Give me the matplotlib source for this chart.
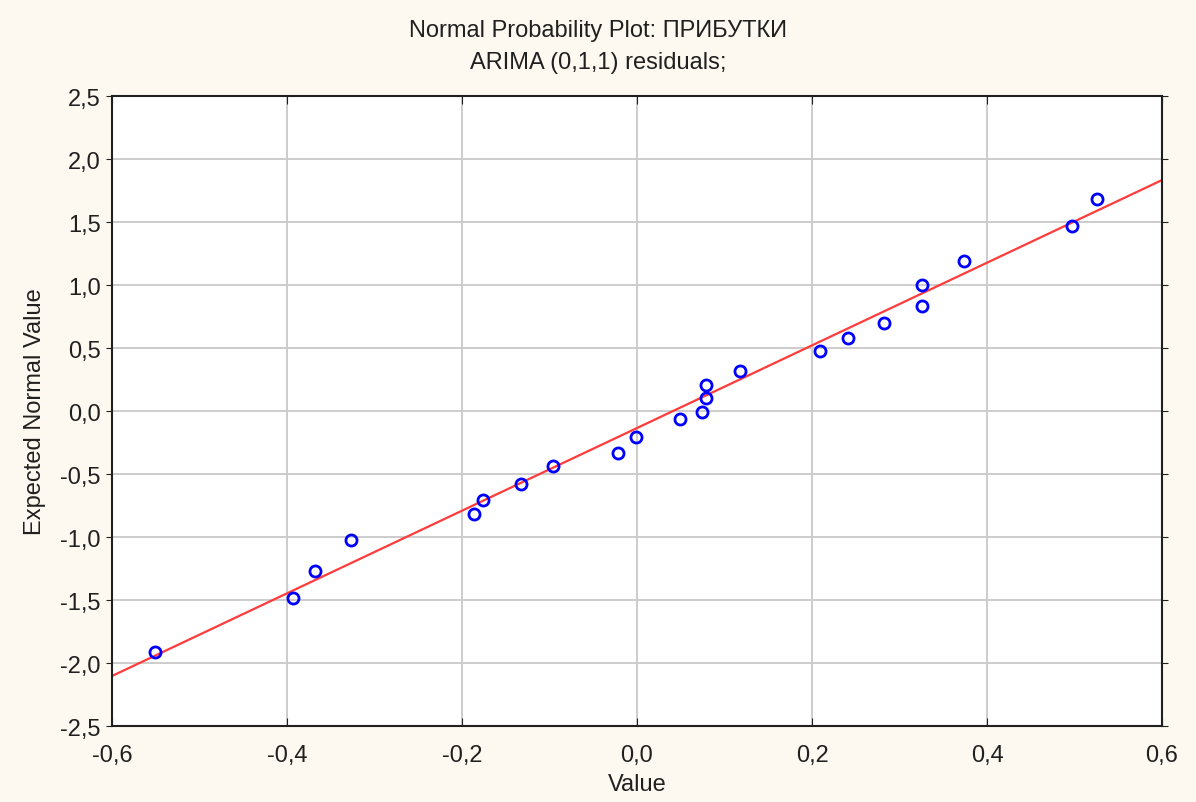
import numpy as np
import matplotlib
matplotlib.use('Agg')
import matplotlib.pyplot as plt

# residual values and expected normal values
value = [-0.551, -0.393, -0.368, -0.327, -0.186, -0.176, -0.133, -0.096,
         -0.022, -0.001, 0.049, 0.074, 0.079, 0.079, 0.118, 0.209,
         0.241, 0.282, 0.326, 0.326, 0.374, 0.497, 0.526]
expected = [-1.91, -1.48, -1.27, -1.02, -0.82, -0.71, -0.58, -0.44,
            -0.33, -0.21, -0.06, -0.01, 0.10, 0.21, 0.32, 0.48,
            0.58, 0.70, 0.83, 1.00, 1.19, 1.47, 1.68]
line_slope = 3.28
line_intercept = -0.135

xticks = [-0.6, -0.4, -0.2, 0.0, 0.2, 0.4, 0.6]
yticks = [-2.5, -2.0, -1.5, -1.0, -0.5, 0.0, 0.5, 1.0, 1.5, 2.0, 2.5]

plt.rcParams['font.family'] = ['Liberation Sans', 'DejaVu Sans']

fig = plt.figure(figsize=(11.96, 8.03), dpi=100, facecolor='#fdf9f0')
ax = fig.add_axes([0.0936, 0.0946, 0.878, 0.7846])
ax.set_facecolor('white')

xl = np.array([-0.6, 0.6])
ax.plot(xl, line_intercept + line_slope * xl, color='#ff3b3b', lw=1.6, zorder=2)
ax.plot(value, expected, 'o', ms=8, mfc='none', mec='#0000ff', mew=2, zorder=3)

ax.set_xlim(-0.6, 0.6)
ax.set_ylim(-2.5, 2.5)
ax.set_xticks(xticks)
ax.set_yticks(yticks)
ax.set_xticklabels([('%.1f' % t).replace('.', ',') for t in xticks])
ax.set_yticklabels([('%.1f' % t).replace('.', ',') for t in yticks])
ax.grid(True, color='#cccccc', lw=1.4, zorder=0)
ax.set_axisbelow(True)
ax.tick_params(direction='in', length=6, top=True, right=True, labelsize=17,
               colors='#202020')
ax.tick_params(axis='x', pad=13)
ax.tick_params(axis='y', direction='out', length=4, pad=4)
for s in ax.spines.values():
    s.set_linewidth(1.5)
    s.set_color('#202020')

ax.set_xlabel('Value', fontsize=17, color='#202020', labelpad=5)
ax.set_ylabel('Expected Normal Value', fontsize=17, color='#202020', labelpad=10)
fig.text(0.5, 0.961, 'Normal Probability Plot: ПРИБУТКИ', ha='center', va='center',
         fontsize=17, color='#202020')
fig.text(0.5, 0.921, 'ARIMA (0,1,1) residuals;', ha='center', va='center',
         fontsize=17, color='#202020')

fig.savefig('out.png', dpi=100, facecolor=fig.get_facecolor())
